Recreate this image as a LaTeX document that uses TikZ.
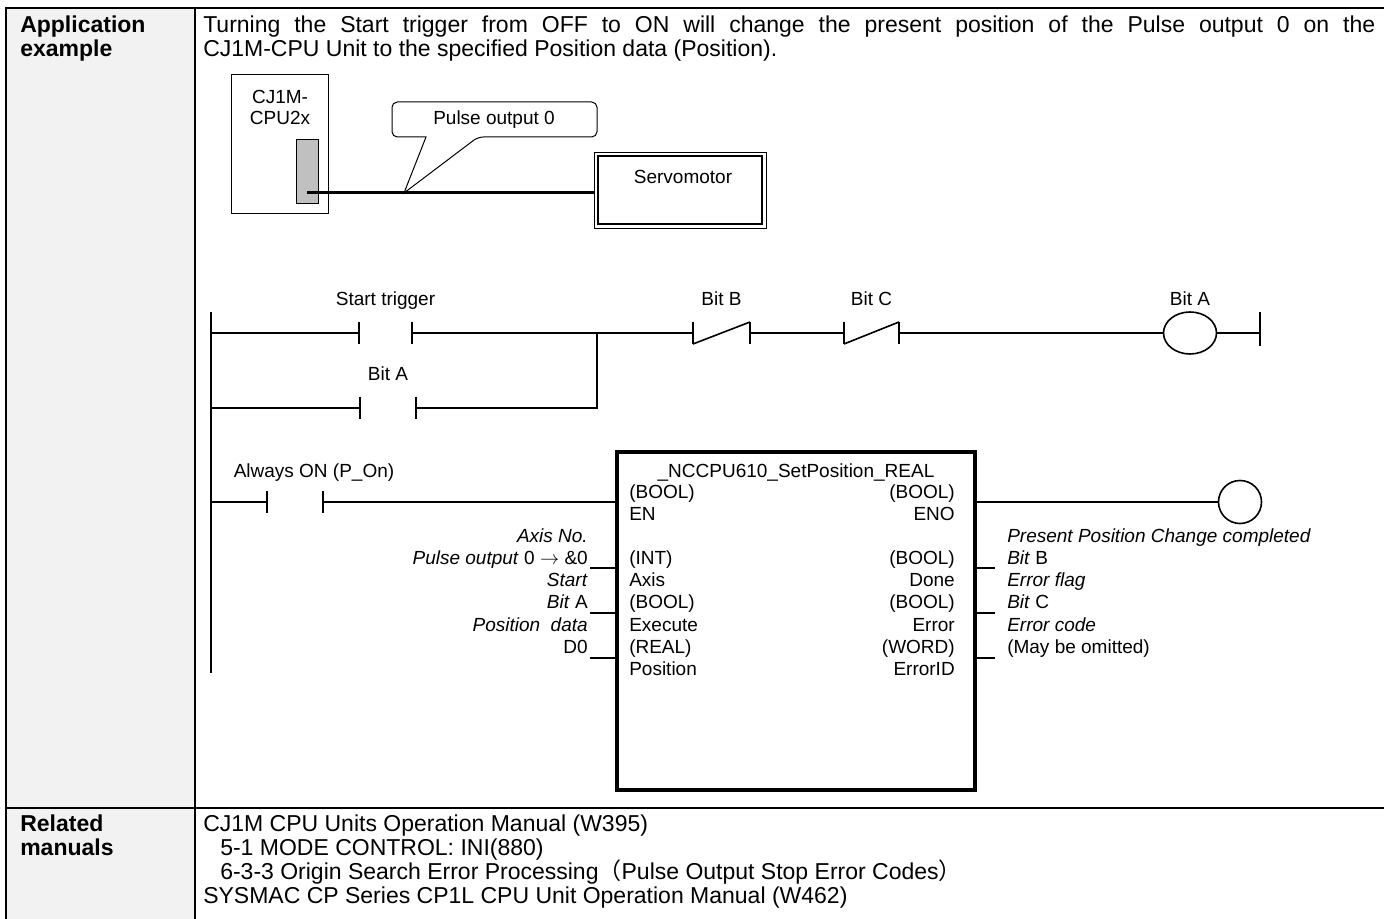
\documentclass[tikz,border=0pt]{standalone}
\usepackage{fontspec}
\setmainfont{Liberation Sans}
\newfontfamily\cjk{Noto Sans CJK SC}
\usetikzlibrary{positioning,shapes.geometric}
\definecolor{cellgray}{HTML}{F2F2F2}
\definecolor{portgray}{HTML}{C0C0C0}
\tikzset{
  body/.style={inner sep=0pt, font=\fontsize{17.25}{19}\selectfont},
  head/.style={inner sep=0pt, font=\fontsize{17.25}{19}\selectfont\bfseries},
  lbl/.style={inner sep=0pt, font=\fontsize{14.25}{16}\selectfont},
  rule/.style={line width=1.9pt},
  wire/.style={line width=1.2pt},
  contact/.style={minimum width=#1, minimum height=16.5pt, inner sep=0pt, outer sep=0pt},
  coil/.style={draw, wire, ellipse, inner sep=0pt, outer sep=0pt},
  fblock/.style={draw, line width=2.6pt, minimum width=268.5pt, minimum height=253.5pt, inner sep=0pt}
}
\newcommand{\nocontact}[3]{%
  \node[contact=#3] (#1) at (#2) {};
  \draw[wire] (#1.north west) -- (#1.south west) (#1.north east) -- (#1.south east);}
\newcommand{\nccontact}[3]{%
  \nocontact{#1}{#2}{#3}
  \draw[wire] (#1.south west) -- (#1.north east);}

\begin{document}
\begin{tikzpicture}[x=0.75pt,y=-0.75pt]
  \useasboundingbox (0,0) rectangle (1384,919);
  \fill[white] (0,0) rectangle (1384,919);
  % table
  \fill[cellgray] (6,8) rectangle (195,919);
  \draw[rule] (6,919) -- (6,8) -- (1384,8);
  \draw[rule] (195,8) -- (195,919);
  \draw[rule] (6,808) -- (1384,808);
  \node[head, anchor=base west] (apphead1) at (20,33) {Application};
  \node[head, anchor=base west] (apphead2) at (20,57) {example};
  \node[body, anchor=base west] (desc1) at (203,33) {\makebox[879pt][s]{Turning the Start trigger from OFF to ON will change the present position of the Pulse output 0 on the}};
  \node[body, anchor=base west] (desc2) at (203,57) {CJ1M-CPU Unit to the specified Position data (Position).};
  \node[head, anchor=base west] (relhead1) at (20,831) {Related};
  \node[head, anchor=base west] (relhead2) at (20,855) {manuals};
  \node[body, anchor=base west] (man1) at (203,831) {CJ1M CPU Units Operation Manual (W395)};
  \node[body, anchor=base west] (man2) at (220,855) {5-1 MODE CONTROL: INI(880)};
  \node[body, anchor=base west] (man3) at (220,879) {6-3-3 Origin Search Error Processing{\cjk （}Pulse Output Stop Error Codes{\cjk ）}};
  \node[body, anchor=base west] (man4) at (203,903) {SYSMAC CP Series CP1L CPU Unit Operation Manual (W462)};

  % unit and servomotor
  \node[draw, line width=0.75pt, minimum width=72.75pt, minimum height=104.25pt, inner sep=0pt] (cpu) at (279.5,144.5) {};
  \node[lbl, anchor=base] (cpuname1) at (280,104) {CJ1M-};
  \node[lbl, anchor=base] (cpuname2) at (280,125) {CPU2x};
  \node[draw, fill=portgray, line width=0.75pt, minimum width=16.5pt, minimum height=48pt, inner sep=0pt] (port) at (307,172) {};
  \node[draw, line width=0.6pt, minimum width=129pt, minimum height=57pt, inner sep=0pt] (servo) at (680,190) {};
  \draw[line width=1.5pt] ([shift={(4,4)}]servo.north west) rectangle ([shift={(-4,-4)}]servo.south east);
  \node[lbl, anchor=base] (servoname) at (683,184) {Servomotor};
  \coordinate (plug) at (307,193);
  \draw[line width=2.25pt] (plug) -- (plug -| servo.west);
  \coordinate (tip) at (404,193);
  \draw[line width=0.75pt, rounded corners=4pt] (426,137) -- (392,137) -- (392,102) -- (597,102) -- (597,137) -- (478,137) [sharp corners] -- (tip) -- cycle;
  \node[lbl, anchor=base] (pulsename) at (494,125) {Pulse output 0};

  % self-holding rung
  \coordinate (railtop) at (211,312);
  \coordinate (railbot) at (211,673);
  \coordinate (rrtop) at (1260,312);
  \coordinate (rrbot) at (1260,346);
  \draw[wire] (railtop) -- (railbot);
  \draw[wire] (rrtop) -- (rrbot);
  \nocontact{trig}{385.5,333}{39.75pt}
  \nocontact{hold}{388,408}{42pt}
  \nccontact{bitb}{721.5,333}{42.75pt}
  \nccontact{bitc}{871.5,333}{41.25pt}
  \node[coil, minimum width=39.75pt, minimum height=31.5pt] (outa) at (1190,333) {};
  \coordinate (join) at (597,333);
  \draw[wire] (railtop |- trig) -- (trig.west);
  \draw[wire] (trig.east) -- (bitb.west);
  \draw[wire] (bitb.east) -- (bitc.west);
  \draw[wire] (bitc.east) -- (outa.west);
  \draw[wire] (outa.east) -- (rrtop |- outa);
  \draw[wire] (railtop |- hold) -- (hold.west);
  \draw[wire] (hold.east) -| (join);
  \node[lbl, above=12pt of trig, anchor=base] (triglbl) {Start trigger};
  \node[lbl, above=12pt of hold, anchor=base] (holdlbl) {Bit A};
  \node[lbl, above=12pt of bitb, anchor=base] (bitblbl) {Bit B};
  \node[lbl, above=12pt of bitc, anchor=base] (bitclbl) {Bit C};
  \node[lbl, above=4.5pt of outa, anchor=base] (outalbl) {Bit A};

  % function block rung
  \nocontact{alwon}{295,502}{42pt}
  \node[fblock] (fb) at (796,621) {};
  \node[coil, minimum size=32.25pt] (eno) at (1240,502) {};
  \draw[wire] (railtop |- alwon) -- (alwon.west);
  \draw[wire] (alwon.east) -- (alwon -| fb.west);
  \draw[wire] (eno -| fb.east) -- (eno.west);
  \node[lbl, anchor=base] (alwonlbl) at (314,477) {Always ON (P\_On)};
  \node[lbl, anchor=base] (fbname) at (796,477) {\_NCCPU610\_SetPosition\_REAL};
  \foreach \y/\l/\r [count=\i] in {498/(BOOL)/(BOOL), 520/EN/ENO, 564/(INT)/(BOOL), 586/Axis/Done, 608/(BOOL)/(BOOL), 631/Execute/Error, 653/(REAL)/(WORD), 675/Position/ErrorID}
    {\node[lbl, anchor=base west] (fbin\i) at (629,\y) {\l};
     \node[lbl, anchor=base east] (fbout\i) at (955,\y) {\r};}
  \foreach \y/\n in {568/axis, 613/exec, 658/pos} {
    \coordinate (in\n) at (590,\y);
    \coordinate (out\n) at (995,\y);
    \draw[wire] (in\n) -- (in\n -| fb.west);
    \draw[wire] (fb.east |- out\n) -- (out\n);
  }
  \node[lbl, anchor=base east] (axisno) at (588,542) {\textit{Axis No.}};
  \node[lbl, anchor=base east] (axisval) at (588,564) {\textit{Pulse output} 0 $\rightarrow$ \&0};
  \node[lbl, anchor=base east] (startno) at (588,586) {\textit{Start}};
  \node[lbl, anchor=base east] (startval) at (588,608) {\textit{Bit} A};
  \node[lbl, anchor=base east] (posno) at (588,631) {\textit{Position\ \ data}};
  \node[lbl, anchor=base east] (posval) at (588,653) {D0};
  \node[lbl, anchor=base west] (doneno) at (1007,542) {\textit{Present Position Change completed}};
  \node[lbl, anchor=base west] (doneval) at (1007,564) {\textit{Bit} B};
  \node[lbl, anchor=base west] (errno) at (1007,586) {\textit{Error flag}};
  \node[lbl, anchor=base west] (errval) at (1007,608) {\textit{Bit} C};
  \node[lbl, anchor=base west] (codeno) at (1007,631) {\textit{Error code}};
  \node[lbl, anchor=base west] (codeval) at (1007,653) {(May be omitted)};
\end{tikzpicture}
\end{document}
